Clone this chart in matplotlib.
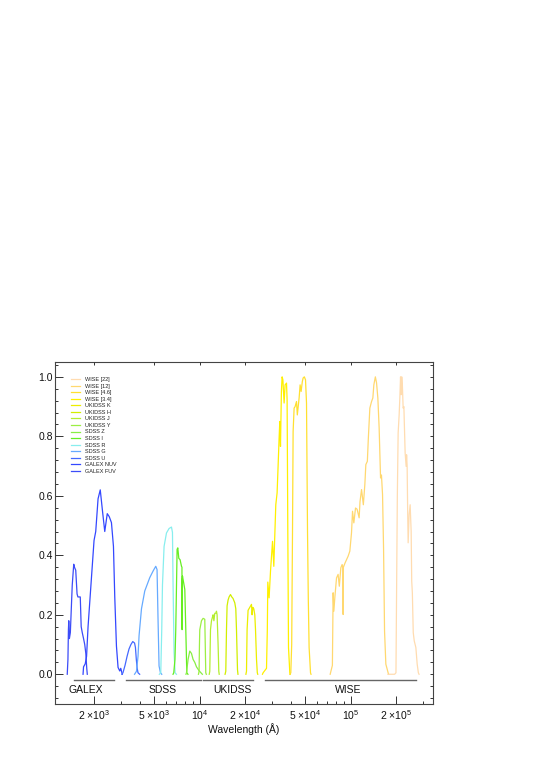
import numpy as np
import matplotlib
matplotlib.use('Agg')
import matplotlib.pyplot as plt
from matplotlib.ticker import FixedLocator, MultipleLocator, LogLocator, NullFormatter, NullLocator, FormatStrFormatter

plt.rcParams['font.family'] = ['Liberation Sans', 'DejaVu Sans']
plt.rcParams['mathtext.fontset'] = 'custom'
plt.rcParams['mathtext.rm'] = 'Liberation Sans'
plt.rcParams['mathtext.it'] = 'Liberation Sans:italic'
plt.rcParams['mathtext.bf'] = 'Liberation Sans:bold'

# Кривые пропускания фильтров: длина волны (Å) и пропускание
fuv_wl = [1326, 1340, 1350, 1357, 1370, 1390, 1431, 1464, 1480, 1509, 1540, 1560, 1617, 1640, 1667, 1700, 1731, 1760, 1785, 1800]
fuv_t = [0.0, 0.05, 0.15, 0.18, 0.12, 0.14, 0.30, 0.37, 0.36, 0.35, 0.27, 0.26, 0.26, 0.16, 0.14, 0.12, 0.10, 0.07, 0.02, 0.0]

nuv_wl = [1687, 1700, 1744, 1780, 1821, 1897, 1995, 2047, 2121, 2193, 2268, 2349, 2440, 2515, 2601, 2682, 2736, 2807, 2877, 2953, 2998, 3068]
nuv_t = [0.0, 0.025, 0.035, 0.06, 0.16, 0.29, 0.45, 0.48, 0.59, 0.62, 0.55, 0.48, 0.54, 0.53, 0.51, 0.43, 0.26, 0.095, 0.023, 0.011, 0.02, 0.0]

u_wl = [3050, 3100, 3200, 3300, 3400, 3500, 3600, 3700, 3750, 3800, 3850, 3900, 4000]
u_t = [0.0, 0.005, 0.03, 0.06, 0.085, 0.10, 0.11, 0.105, 0.09, 0.05, 0.02, 0.005, 0.0]

g_wl = [3700, 3809, 3900, 3963, 4111, 4322, 4666, 4906, 5111, 5213, 5292, 5374, 5490, 5600]
g_t = [0.0, 0.01, 0.06, 0.13, 0.22, 0.28, 0.325, 0.347, 0.363, 0.352, 0.185, 0.028, 0.005, 0.0]

r_wl = [5400, 5517, 5600, 5662, 5803, 6018, 6260, 6494, 6594, 6655, 6757, 6862, 7000]
r_t = [0.0, 0.005, 0.15, 0.30, 0.43, 0.475, 0.49, 0.495, 0.477, 0.30, 0.074, 0.005, 0.0]

i_wl = [6650, 6727, 6850, 6934, 7077, 7152, 7262, 7408, 7567, 7620, 7637, 7660, 7683, 7837, 7958, 8080, 8204, 8350]
i_t = [0.0, 0.005, 0.05, 0.15, 0.42, 0.425, 0.39, 0.385, 0.363, 0.36, 0.15, 0.32, 0.33, 0.305, 0.285, 0.15, 0.005, 0.0]

z_wl = [8100, 8166, 8366, 8585, 8812, 9029, 9266, 9508, 9894, 10263, 10400]
z_t = [0.0, 0.005, 0.05, 0.078, 0.07, 0.05, 0.04, 0.025, 0.012, 0.003, 0.0]

y_wl = [9800, 9894, 9950, 10000, 10263, 10517, 10791, 10870, 10956, 11050]
y_t = [0.0, 0.01, 0.10, 0.15, 0.18, 0.188, 0.185, 0.10, 0.005, 0.0]

j_wl = [11550, 11646, 11773, 11954, 12100, 12250, 12400, 12569, 12750, 12900, 13020, 13220, 13362, 13450]
j_t = [0.0, 0.01, 0.15, 0.18, 0.19, 0.20, 0.18, 0.205, 0.205, 0.212, 0.20, 0.10, 0.01, 0.0]

h_wl = [14700, 14866, 15025, 15163, 15400, 15631, 15969, 16288, 16600, 17053, 17315, 17498, 17769, 17900]
h_t = [0.0, 0.01, 0.15, 0.23, 0.25, 0.26, 0.268, 0.26, 0.255, 0.24, 0.22, 0.15, 0.015, 0.0]

k_wl = [20200, 20383, 20570, 20882, 21432, 21995, 22200, 22439, 22783, 23133, 23385, 23744, 24035, 24200]
k_t = [0.0, 0.01, 0.15, 0.215, 0.225, 0.235, 0.20, 0.225, 0.22, 0.20, 0.15, 0.05, 0.005, 0.0]

w1_wl = [26000, 26257, 27655, 28000, 28208, 28773, 29395, 30307, 30914, 31300, 31862, 32501, 33000, 33510,
         33867, 34228, 34700, 35075, 35500, 36165, 36719, 37514, 37853, 38264, 38672, 39447, 39700]
w1_t = [0.0, 0.005, 0.02, 0.15, 0.31, 0.257, 0.347, 0.447, 0.363, 0.45, 0.57, 0.61, 0.70, 0.794,
        0.85, 0.766, 0.95, 1.0, 0.99, 0.912, 0.973, 0.979, 0.923, 0.48, 0.09, 0.005, 0.0]

w2_wl = [39500, 40052, 40600, 41106, 41487, 42124, 42770, 43695, 44233, 45464, 46162, 46878, 47740, 48326,
         49222, 50119, 50887, 51669, 52303, 52945, 54092, 54500]
w2_t = [0.0, 0.005, 0.1, 0.48, 0.816, 0.895, 0.90, 0.917, 0.872, 0.929, 0.973, 0.951, 0.984, 0.996,
        1.0, 0.99, 0.912, 0.48, 0.25, 0.09, 0.005, 0.0]

w3_wl = [73000, 73390, 75500, 76360, 77180, 78340, 80410, 82390, 83900, 85870,
         87590, 88600, 88930, 89300, 91700, 95970, 98500, 101060, 102630, 104690,
         107430, 110000, 113510, 115000, 117750, 121030, 123830, 125730, 128650, 130620,
         133640, 137160, 139900, 142050, 145350, 148000, 150970, 153990, 157320, 159500,
         162180, 164690, 167210, 170560, 176600, 178000]
w3_t = [0.0, 0.005, 0.03, 0.274, 0.212, 0.257, 0.324, 0.336, 0.296, 0.358,
        0.369, 0.36, 0.201, 0.36, 0.375, 0.397, 0.414, 0.476, 0.548, 0.509,
        0.559, 0.555, 0.526, 0.58, 0.621, 0.570, 0.638, 0.705, 0.716, 0.794,
        0.895, 0.917, 0.929, 0.973, 1.0, 0.98, 0.929, 0.828, 0.66, 0.67,
        0.604, 0.425, 0.145, 0.034, 0.005, 0.0]

w4_wl = [176000, 195000, 199000, 200750, 203210, 205710, 208880, 211110, 213360, 215300, 217300,
         219500, 222030, 224500, 228890, 232390, 234000, 235960, 238000, 239630, 243310, 247040,
         250820, 253000, 255470, 259000, 263000, 269500, 275000, 280000, 283000]
w4_t = [0.0, 0.0, 0.005, 0.257, 0.60, 0.811, 0.872, 0.929, 1.0, 0.94, 1.0,
        0.97, 0.895, 0.90, 0.744, 0.699, 0.738, 0.70, 0.537, 0.442, 0.537, 0.570,
        0.481, 0.313, 0.274, 0.14, 0.112, 0.09, 0.034, 0.005, 0.0]

filter_names = ['GALEX FUV', 'GALEX NUV', 'SDSS U', 'SDSS G', 'SDSS R', 'SDSS I', 'SDSS Z',
                'UKIDSS Y', 'UKIDSS J', 'UKIDSS H', 'UKIDSS K',
                'WISE [3.4]', 'WISE [4.6]', 'WISE [12]', 'WISE [22]']
filter_wl = [fuv_wl, nuv_wl, u_wl, g_wl, r_wl, i_wl, z_wl, y_wl, j_wl, h_wl, k_wl, w1_wl, w2_wl, w3_wl, w4_wl]
filter_t = [fuv_t, nuv_t, u_t, g_t, r_t, i_t, z_t, y_t, j_t, h_t, k_t, w1_t, w2_t, w3_t, w4_t]
filter_colors = ['#3c4cf8', '#3448ff', '#4468ff', '#66aaff', '#88eeee', '#66ee22', '#88ee44',
                 '#9cee44', '#b4ee30', '#d2ee00', '#ecee00',
                 '#fff000', '#ffe030', '#ffd870', '#ffdcb0']

# Обзоры под кривыми
survey_names = ['GALEX', 'SDSS', 'UKIDSS', 'WISE']
survey_lo = [1466, 3236, 10470, 26910]
survey_hi = [2692, 10150, 22440, 269000]
survey_text_x = [1746, 5690, 16540, 95500]

xtick_vals = [2e3, 5e3, 1e4, 2e4, 5e4, 1e5, 2e5]
xtick_labels = [r'2 $\times$10$^{3}$', r'5 $\times$10$^{3}$', r'10$^{4}$', r'2 $\times$10$^{4}$',
                r'5 $\times$10$^{4}$', r'10$^{5}$', r'2 $\times$10$^{5}$']

xlim = (1100, 3.5e5)
ylim = (-0.1, 1.05)

fig = plt.figure(figsize=(5.45, 7.7), dpi=100)
ax = fig.add_axes([0.1009, 0.0857, 0.6936, 0.4442])

lines = []
for name, wl, t, c in zip(filter_names, filter_wl, filter_t, filter_colors):
    ln, = ax.plot(wl, t, color=c, lw=0.9, label=name)
    lines.append(ln)

for name, lo, hi, tx in zip(survey_names, survey_lo, survey_hi, survey_text_x):
    ax.plot([lo, hi], [-0.02, -0.02], color='#666666', lw=1.0)
    ax.text(tx, -0.054, name, ha='center', va='center', fontsize=7.5, color='#111111')

ax.set_xscale('log')
ax.set_xlim(*xlim)
ax.set_ylim(*ylim)

ax.xaxis.set_major_locator(FixedLocator(xtick_vals))
ax.set_xticklabels(xtick_labels)
ax.xaxis.set_minor_locator(LogLocator(base=10, subs=np.arange(1, 10)))
ax.xaxis.set_minor_formatter(NullFormatter())
ax.yaxis.set_major_locator(MultipleLocator(0.2))
ax.yaxis.set_minor_locator(MultipleLocator(0.04))
ax.yaxis.set_major_formatter(FormatStrFormatter('%.1f'))

ax.tick_params(which='both', direction='in', top=False, right=False, color='#333333', width=0.7,
               labelsize=7.5, labelcolor='#111111')
ax.tick_params(which='major', length=5.5)
ax.tick_params(which='minor', length=2.4)
ax.tick_params(axis='x', which='major', pad=3)
ax.tick_params(axis='y', which='major', pad=1.5)
for sp in ax.spines.values():
    sp.set_color('#444444')
    sp.set_linewidth(0.8)

# верхняя ось: только основные короткие штрихи
ax_top = ax.twiny()
ax_top.set_xscale('log')
ax_top.set_xlim(*xlim)
ax_top.xaxis.set_major_locator(FixedLocator(xtick_vals))
ax_top.xaxis.set_minor_locator(NullLocator())
ax_top.tick_params(axis='x', direction='in', length=2.4, width=0.7, color='#333333', labeltop=False)
# правая ось: короткие штрихи через 0.04
ax_right = ax.twinx()
ax_right.set_ylim(*ylim)
ax_right.yaxis.set_major_locator(MultipleLocator(0.04))
ax_right.yaxis.set_minor_locator(NullLocator())
ax_right.tick_params(axis='y', direction='in', length=2.4, width=0.7, color='#333333', labelright=False)
for a in (ax_top, ax_right):
    for sp in a.spines.values():
        sp.set_visible(False)

ax.set_xlabel('Wavelength (Å)', fontsize=7.5, labelpad=1, color='#111111')

leg = ax.legend(lines[::-1], filter_names[::-1], loc='upper left', bbox_to_anchor=(0.0415, 0.956),
                frameon=False, fontsize=4, handlelength=1.7, handletextpad=0.9,
                labelspacing=0.28, borderpad=0, borderaxespad=0)
for t in leg.get_texts():
    t.set_color('#222222')

fig.savefig('out.png', dpi=100)
